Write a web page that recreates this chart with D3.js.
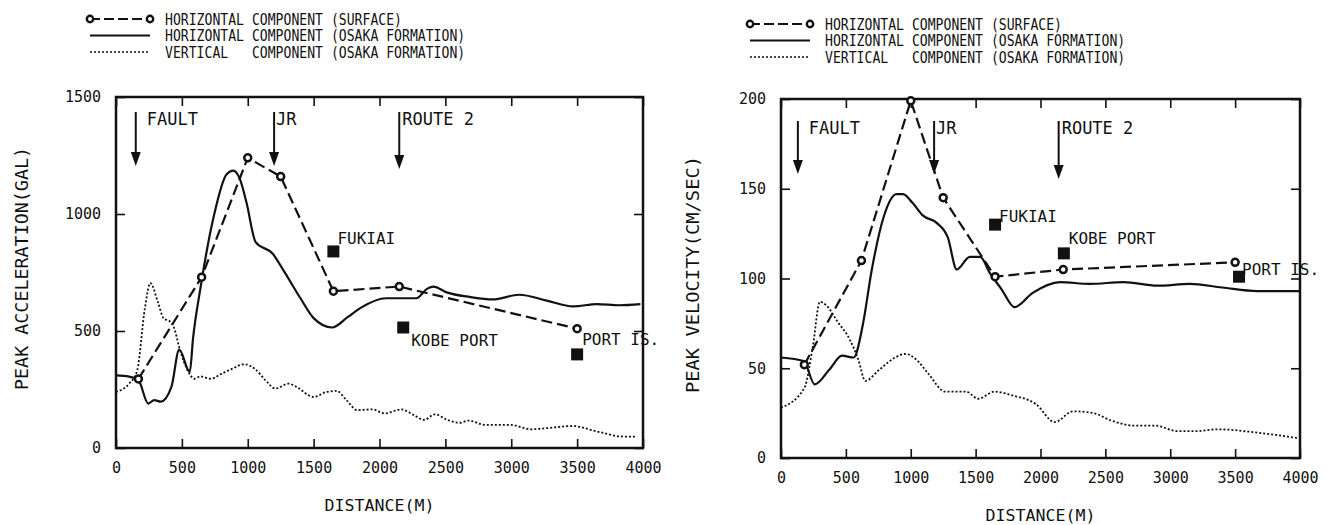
<!DOCTYPE html>
<html>
<head>
<meta charset="utf-8">
<script src="https://cdn.jsdelivr.net/npm/d3@7"></script>
<style>
  body { margin: 0; background: #fff; }
  text { font-family: "DejaVu Sans Mono", monospace; fill: #111; }
</style>
</head>
<body>
<div id="chart"></div>
<script>
// ---- data ----
var xTicks = [0, 500, 1000, 1500, 2000, 2500, 3000, 3500, 4000];
var accTicks = [0, 500, 1000, 1500];
var velTicks = [0, 50, 100, 150, 200];

var legendLabels = ["HORIZONTAL COMPONENT (SURFACE)",
                    "HORIZONTAL COMPONENT (OSAKA FORMATION)",
                    "VERTICAL   COMPONENT (OSAKA FORMATION)"];

// peak acceleration (gal) vs distance (m)
var accSurface = [[170,295],[650,730],[1000,1240],[1250,1160],[1650,670],[2150,690],[3500,510]];
var accOsaka = [[0,310],[100,305],[170,290],[245,190],[290,205],[340,198],[420,260],[480,420],
  [560,325],[585,470],[640,680],[740,985],[840,1170],[890,1185],[940,1150],[990,1050],[1060,880],
  [1190,830],[1270,760],[1400,640],[1500,555],[1640,515],[1760,560],[1860,600],[2050,640],
  [2280,640],[2360,680],[2410,690],[2510,665],[2690,645],[2860,635],[3060,655],[3270,630],
  [3470,605],[3650,615],[3820,610],[3980,615]];
var accVertical = [[0,240],[100,275],[160,330],[220,600],[260,705],[320,620],[360,555],[410,540],
  [440,515],[480,430],[545,330],[595,296],[640,306],[720,296],[800,317],[880,338],[975,358],
  [1055,338],[1135,289],[1210,254],[1310,275],[1370,261],[1500,218],[1595,239],[1675,244],
  [1750,204],[1830,162],[1945,165],[2040,148],[2165,165],[2260,141],[2340,120],[2420,144],
  [2515,120],[2610,108],[2675,117],[2800,99],[2990,99],[3150,80],[3275,85],[3465,94],
  [3655,70],[3850,49],[3945,49]];
var accStations = [["FUKIAI",1650,840],["KOBE PORT",2180,515],["PORT IS.",3500,400]];
var accLandmarks = [["FAULT",150],["JR",1200],["ROUTE 2",2150]];

// peak velocity (cm/sec) vs distance (m)
var velSurface = [[180,52],[620,110],[1000,199],[1250,145],[1650,101],[2175,105],[3500,109]];
var velOsaka = [[0,56],[175,54],[260,41],[370,49],[470,57],[560,56],[630,74],[700,105],[790,134],
  [890,147],[940,147],[1015,142],[1095,135],[1200,131],[1285,123],[1355,105],[1455,112],
  [1535,112],[1610,103],[1700,94],[1800,84],[1940,92],[2150,98],[2380,97],[2640,98],
  [2900,96],[3150,97],[3400,95],[3670,93],[4000,93]];
var velVertical = [[0,28],[180,39],[245,62],[300,87],[350,85],[435,76],[530,66],[595,55],
  [650,43],[755,49],[880,56],[960,58],[1040,55],[1135,47],[1265,37],[1425,37],[1520,33],
  [1645,37],[1775,35],[1965,30],[2110,20],[2250,26],[2410,25],[2540,21],[2730,18],[2890,18],
  [3050,15],[3210,15],[3365,16],[3685,14],[3990,11]];
var velStations = [["FUKIAI",1650,130],["KOBE PORT",2180,114],["PORT IS.",3530,101]];
var velLandmarks = [["FAULT",130],["JR",1180],["ROUTE 2",2140]];

var svg = d3.select("#chart").append("svg")
  .attr("width", 1330)
  .attr("height", 525);

function drawPanel(opt) {
  var x = d3.scaleLinear().domain([0, 4000]).range([opt.left, opt.right]);
  var y = d3.scaleLinear().domain([0, opt.ymax]).range([opt.bottom, opt.top]);
  var g = svg.append("g");

  // legend
  legendLabels.forEach(function(lab, i) {
    var ly = opt.legendY + i * 16.5;
    var lx0 = opt.legendX, lx1 = opt.legendX + 60;
    var seg = g.append("line").attr("x1", lx0).attr("x2", lx1).attr("y1", ly).attr("y2", ly)
      .attr("stroke", "#111").attr("fill", "none");
    if (i == 0) {
      seg.attr("stroke-width", 2).attr("stroke-dasharray", "10,4");
      [lx0, lx1].forEach(function(cx) {
        g.append("circle").attr("cx", cx).attr("cy", ly).attr("r", 3.2)
          .attr("fill", "#fff").attr("stroke", "#111").attr("stroke-width", 2.4);
      });
    } else if (i == 1) {
      seg.attr("stroke-width", 2);
    } else {
      seg.attr("stroke-width", 1.6).attr("stroke-dasharray", "2,2");
    }
    g.append("text").attr("x", opt.legendX + 75).attr("y", ly + 5.5)
      .attr("font-size", "15px").attr("xml:space", "preserve")
      .attr("textLength", lab.length * 7.9).attr("lengthAdjust", "spacingAndGlyphs")
      .text(lab);
  });

  // axes with inward ticks on all four sides
  var fmt = d3.format("d");
  var bottomAxis = d3.axisBottom(x).tickValues(xTicks).tickFormat(fmt).tickSizeInner(-9).tickSizeOuter(0).tickPadding(14);
  var topAxis = d3.axisTop(x).tickValues(xTicks).tickSizeInner(-9).tickSizeOuter(0).tickFormat("");
  var leftAxis = d3.axisLeft(y).tickValues(opt.yTicks).tickFormat(fmt).tickSizeInner(-9).tickSizeOuter(0).tickPadding(15);
  var rightAxis = d3.axisRight(y).tickValues(opt.yTicks).tickSizeInner(-9).tickSizeOuter(0).tickFormat("");

  [[bottomAxis, "translate(0," + opt.bottom + ")"], [topAxis, "translate(0," + opt.top + ")"],
   [leftAxis, "translate(" + opt.left + ",0)"], [rightAxis, "translate(" + opt.right + ",0)"]]
    .forEach(function(a) {
      var ax = g.append("g").attr("transform", a[1]).call(a[0]);
      ax.select(".domain").remove();
      ax.selectAll(".tick line").attr("stroke", "#111").attr("stroke-width", 1.6);
      ax.selectAll(".tick text").attr("font-size", "15px").attr("fill", "#111")
        .style("font-family", "'DejaVu Sans Mono', monospace");
    });

  g.append("rect").attr("x", opt.left).attr("y", opt.top)
    .attr("width", opt.right - opt.left).attr("height", opt.bottom - opt.top)
    .attr("fill", "none").attr("stroke", "#111").attr("stroke-width", 2.5);

  // axis titles
  g.append("text").attr("x", (opt.left + opt.right) / 2).attr("y", opt.xTitleY)
    .attr("text-anchor", "middle").attr("font-size", "16px")
    .attr("textLength", 110).attr("lengthAdjust", "spacingAndGlyphs").text("DISTANCE(M)");
  g.append("text")
    .attr("transform", "translate(" + opt.yTitleX + "," + ((opt.top + opt.bottom) / 2 - 4) + ") rotate(-90)")
    .attr("text-anchor", "middle").attr("font-size", "17px")
    .attr("textLength", opt.yTitleLen).attr("lengthAdjust", "spacingAndGlyphs").text(opt.yTitle);

  var clip = "clip" + opt.id;
  svg.append("clipPath").attr("id", clip).append("rect")
    .attr("x", opt.left).attr("y", opt.top).attr("width", opt.right - opt.left).attr("height", opt.bottom - opt.top);
  var plot = g.append("g").attr("clip-path", "url(#" + clip + ")");

  var smooth = d3.line().x(function(d) { return x(d[0]); }).y(function(d) { return y(d[1]); })
    .curve(d3.curveMonotoneX);
  var straight = d3.line().x(function(d) { return x(d[0]); }).y(function(d) { return y(d[1]); });

  plot.append("path").datum(opt.vertical).attr("d", smooth)
    .attr("fill", "none").attr("stroke", "#111").attr("stroke-width", 1.8).attr("stroke-dasharray", "2,2");
  plot.append("path").datum(opt.osaka).attr("d", smooth)
    .attr("fill", "none").attr("stroke", "#111").attr("stroke-width", 2.2);
  plot.append("path").datum(opt.surface).attr("d", straight)
    .attr("fill", "none").attr("stroke", "#111").attr("stroke-width", 2.2).attr("stroke-dasharray", "11,5");
  g.selectAll("circle.pt").data(opt.surface).enter().append("circle")
    .attr("cx", function(d) { return x(d[0]); }).attr("cy", function(d) { return y(d[1]); })
    .attr("r", 3.5).attr("fill", "#fff").attr("stroke", "#111").attr("stroke-width", 2.5);

  // stations (filled squares)
  opt.stations.forEach(function(s, i) {
    var sx = x(s[1]), sy = y(s[2]);
    g.append("rect").attr("x", sx - 6).attr("y", sy - 6).attr("width", 12).attr("height", 12).attr("fill", "#111");
    var off = opt.stationLabelOffsets[i];
    g.append("text").attr("x", sx + off[0]).attr("y", sy + off[1]).attr("font-size", "16px").text(s[0]);
  });

  // landmark arrows
  opt.landmarks.forEach(function(m, i) {
    var ax = x(m[1]);
    var yTop = opt.arrowTop, yBot = opt.arrowBottom[i];
    g.append("line").attr("x1", ax).attr("x2", ax).attr("y1", yTop).attr("y2", yBot - 10)
      .attr("stroke", "#111").attr("stroke-width", 2);
    g.append("path").attr("d", "M" + (ax - 5) + "," + (yBot - 14) + "L" + (ax + 5) + "," + (yBot - 14) + "L" + ax + "," + yBot + "Z")
      .attr("fill", "#111");
    g.append("text").attr("x", ax + opt.landmarkDx[i]).attr("y", yTop + opt.landmarkDy).attr("font-size", "17px").text(m[0]);
  });
}

drawPanel({
  id: "acc", left: 116, right: 643, top: 97, bottom: 448, ymax: 1500, yTicks: accTicks,
  yTitle: "PEAK ACCELERATION(GAL)", yTitleLen: 243, yTitleX: 28, xTitleY: 511,
  legendX: 90, legendY: 19,
  surface: accSurface, osaka: accOsaka, vertical: accVertical,
  stations: accStations, stationLabelOffsets: [[4, -7], [8, 19], [5, -9]],
  landmarks: accLandmarks, arrowTop: 112, arrowBottom: [166, 166, 169], landmarkDx: [11, 2, 3], landmarkDy: 13
});

drawPanel({
  id: "vel", left: 781, right: 1300, top: 99, bottom: 458, ymax: 200, yTicks: velTicks,
  yTitle: "PEAK VELOCITY(CM/SEC)", yTitleLen: 237, yTitleX: 699, xTitleY: 521,
  legendX: 750, legendY: 24,
  surface: velSurface, osaka: velOsaka, vertical: velVertical,
  stations: velStations, stationLabelOffsets: [[4, -3], [5, -9], [3, -2]],
  landmarks: velLandmarks, arrowTop: 121, arrowBottom: [174, 174, 179], landmarkDx: [11, 2, 3], landmarkDy: 13
});
</script>
</body>
</html>
